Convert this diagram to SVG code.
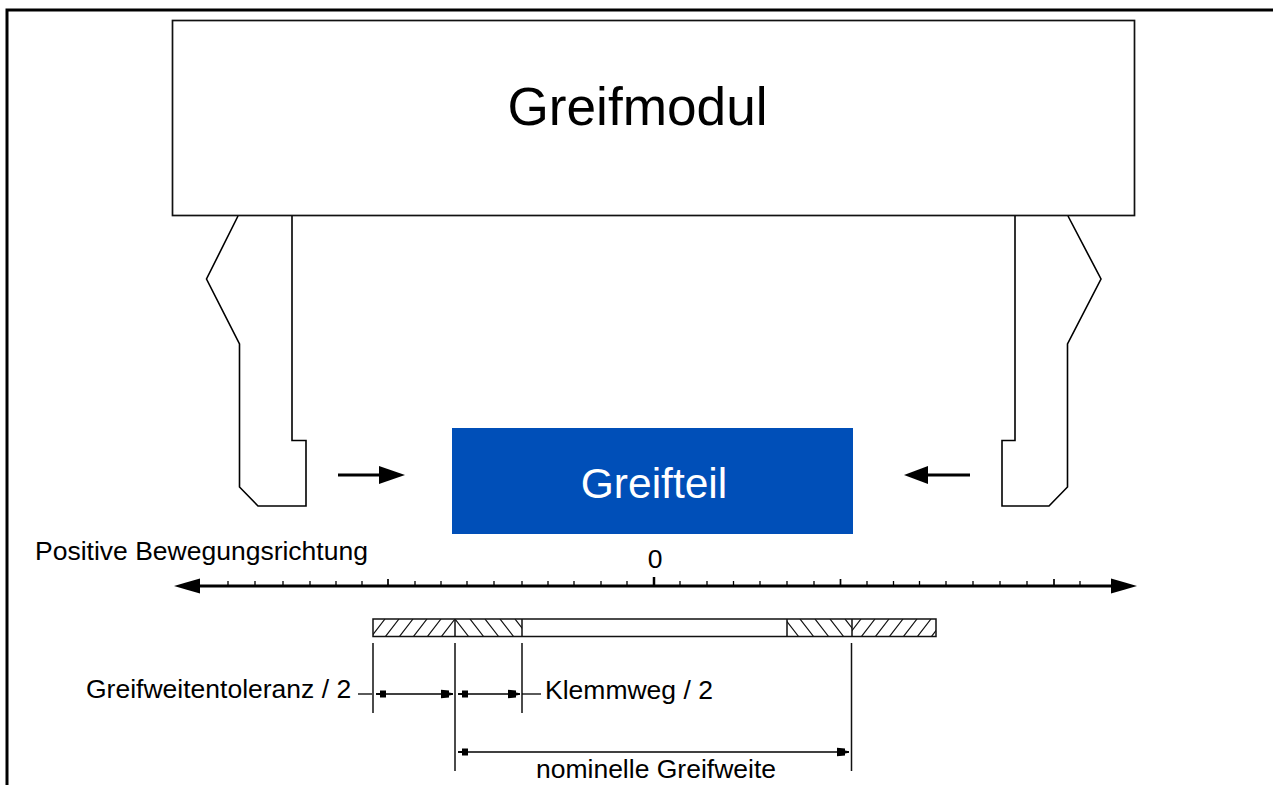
<svg xmlns="http://www.w3.org/2000/svg" width="1273" height="785" viewBox="0 0 1273 785">
<defs>
<pattern id="hf" width="14" height="18" patternUnits="userSpaceOnUse" x="373" y="619"><path d="M-2 18L12 0M12 18L26 0" stroke="#111" stroke-width="1.200" fill="none"/></pattern>
<pattern id="hb" width="15" height="18" patternUnits="userSpaceOnUse" x="455" y="619"><path d="M0 0L14 18M-15 0L-1 18M15 0L29 18" stroke="#111" stroke-width="1.200" fill="none"/></pattern>
<marker id="sl" markerWidth="11" markerHeight="8" refX="0" refY="4" orient="auto" markerUnits="userSpaceOnUse"><path d="M0 3.200L4 3V.5H10V7.500H4V5L0 4.800Z" fill="#000"/></marker>
<marker id="sr" markerWidth="12" markerHeight="10" refX="12" refY="5" orient="auto" markerUnits="userSpaceOnUse"><path d="M0 .8L8 1.500V3.500L12 4.200V5.800L8 6.500V8.500L0 9.200Z" fill="#000"/></marker>
</defs>
<style>
.o{fill:none;stroke:#111;stroke-width:1.700}
.f{fill:none;stroke:#000;stroke-width:1.600;stroke-linejoin:miter}
.d{fill:none;stroke:#111;stroke-width:1.500}
.a{fill:none;stroke:#000;stroke-width:1.300;marker-start:url(#sl);marker-end:url(#sr)}
.t{font-family:"Liberation Sans",Arial,sans-serif;fill:#000}
.l{font-size:26.500px}
.m{stroke:#000;stroke-width:1.300}
.M{stroke:#000;stroke-width:1.700}
</style>
<rect width="1273" height="785" fill="#fff"/>
<path id="frame" d="M7 785V10H1273" fill="none" stroke="#000" stroke-width="3"/>
<g id="greifmodul"><rect class="o" x="172.500" y="20.500" width="962" height="195"/><text class="t" x="637.500" y="125" font-size="53.200" text-anchor="middle">Greifmodul</text></g>
<g id="backe-links"><path class="f" d="M238 216L206.500 279L239.500 344V487L258 506H306V440.500H292V216"/></g>
<g id="backe-rechts"><path class="f" d="M1068 216L1101 279L1067.500 344V487L1049 506H1002V440.500H1015V216"/></g>
<g id="greifteil"><rect x="452" y="428" width="401" height="106" fill="#004fb8"/><text x="654" y="498" font-size="42.500" text-anchor="middle" class="t" style="fill:#fff">Greifteil</text></g>
<g id="achse">
<text class="t l" x="35" y="560">Positive Bewegungsrichtung</text>
<text class="t l" x="655" y="568" text-anchor="middle">0</text>
<path d="M190 586H1125" stroke="#000" stroke-width="3.200" fill="none"/>
<path d="M174 586L186 582.500L200 578.500V593.500L186 589.500Z" fill="#000"/><path d="M1137 586L1125 582.500L1111 578.500V593.500L1125 589.500Z" fill="#000"/>
<path class="m" d="M228 585V581M255 585V581M283 585V581M310 585V581M336 585V581M362 585V581M415 585V581M441 585V581M467 585V581M494 585V581M522 585V581M548 585V581M574 585V581M601 585V581M627 585V581M680 585V581M707 585V581M733.500 585V581M760 585V581M787 585V581M814 585V581M867 585V581M893.500 585V581M919.500 585V581M946 585V581M973 585V581M1000 585V581M1027 585V581M1080 585V581"/>
<path class="M" d="M388 585V579M840.500 585V579M1054 585V579"/>
<path d="M654 585V577" stroke="#000" stroke-width="2.500"/>
</g>
<g id="pfeile">
<path d="M338 475H385" stroke="#000" stroke-width="2.800"/><path d="M405 475L379 466V484Z" fill="#000"/>
<path d="M970 475H925" stroke="#000" stroke-width="2.800"/><path d="M904 475L928 466V484Z" fill="#000"/>
</g>
<g id="balken">
<rect x="373" y="619" width="82" height="17" fill="url(#hf)"/>
<rect x="455" y="619" width="67" height="17" fill="url(#hb)"/>
<rect x="787" y="619" width="65" height="17" fill="url(#hb)"/>
<rect x="852" y="619" width="84" height="17" fill="url(#hf)"/>
<path class="d" d="M373 619H936V636.500H373ZM455 619V636.500M522 619V636.500M787 619V636.500M852 619V636.500"/>
</g>
<g id="connectors">
<path class="d" d="M373 643V713M455 643V771M522 643V713M851.500 643V771"/>
<path d="M358 694H372" stroke="#000" stroke-width="1.300" fill="none"/>
<path class="a" d="M376 694H453"/>
<path class="a" d="M458 694H520"/>
<path d="M522 694H541" stroke="#000" stroke-width="1.300" fill="none"/>
<path class="a" d="M458 752H849"/>
</g>
<text class="t l" x="86" y="698">Greifweitentoleranz / 2</text>
<text class="t l" x="545" y="699">Klemmweg / 2</text>
<text class="t l" x="656" y="778" text-anchor="middle">nominelle Greifweite</text>
</svg>
